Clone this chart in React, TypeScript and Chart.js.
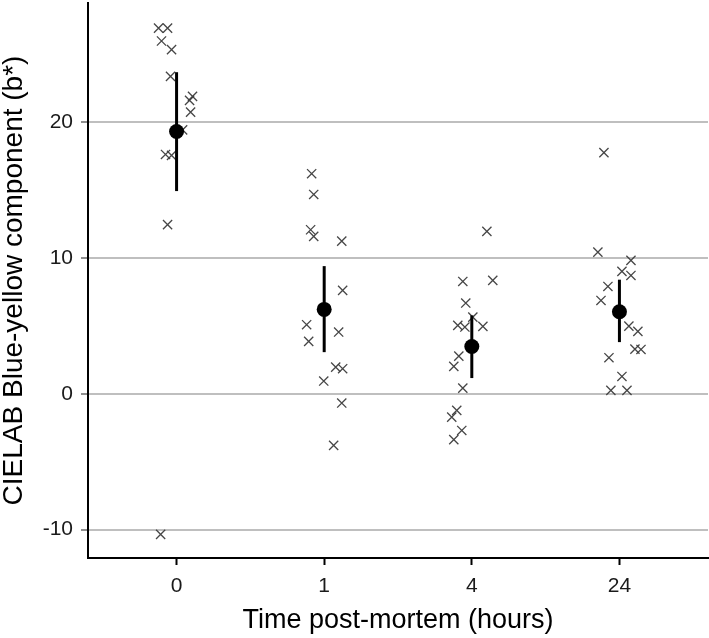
import React, { useEffect, useRef } from "react";
import { Chart, registerables } from "chart.js";

Chart.register(...registerables);

// Categories (time post-mortem, hours)
const categories = ["0", "1", "4", "24"];
const yTickValues = [-10, 0, 10, 20];

// Group means and error bar limits
const means = [19.33, 6.22, 3.49, 6.05];
const lower = [14.94, 3.07, 1.16, 3.81];
const upper = [23.7, 9.41, 5.78, 8.41];

// Individual observations (b*) and horizontal jitter (category units)
const values0 = [26.95, 26.95, 26.0, 25.36, 23.39, 21.92, 21.62, 20.76, 19.45, 17.64, 17.57, 12.47, -10.36];
const jitter0 = [-0.122, -0.061, -0.102, -0.034, -0.041, 0.108, 0.088, 0.095, 0.041, -0.075, -0.034, -0.061, -0.108];

const values1 = [16.22, 14.69, 12.09, 11.6, 11.25, 7.62, 5.09, 4.55, 3.86, 1.97, 1.85, 0.94, -0.68, -3.8];
const jitter1 = [-0.085, -0.071, -0.092, -0.071, 0.119, 0.125, -0.119, 0.098, -0.105, 0.078, 0.125, -0.003, 0.119, 0.064];

const values4 = [11.97, 8.28, 8.36, 6.69, 5.65, 5.04, 4.92, 4.97, 2.78, 2.02, 0.42, -1.22, -1.72, -2.7, -3.38];
const jitter4 = [0.102, -0.061, 0.142, -0.041, 0.007, -0.095, -0.047, 0.075, -0.088, -0.122, -0.061, -0.102, -0.136, -0.068, -0.122];

const values24 = [17.77, 10.44, 9.83, 9.02, 8.72, 7.91, 6.88, 4.99, 4.6, 3.29, 3.27, 2.66, 1.28, 0.25, 0.25];
const jitter24 = [-0.105, -0.146, 0.078, 0.017, 0.078, -0.078, -0.125, 0.064, 0.125, 0.105, 0.146, -0.071, 0.017, -0.058, 0.051];

const groupValues = [values0, values1, values4, values24];
const groupJitter = [jitter0, jitter1, jitter4, jitter24];

const FONT = "'Liberation Sans', Arial, Helvetica, sans-serif";

export default function App() {
  const ref = useRef<HTMLCanvasElement>(null);

  useEffect(() => {
    document.body.style.margin = "0";
    const canvas = ref.current;
    if (!canvas) return;

    const obs: { x: number; y: number }[] = [];
    groupValues.forEach((vals, i) => {
      vals.forEach((v, j) => obs.push({ x: i + groupJitter[i][j], y: v }));
    });

    const meanData = means.map((m, i) => ({ x: i, y: m }));

    const errorSets = categories.map((_, i) => ({
      type: "scatter" as const,
      data: [
        { x: i, y: lower[i] },
        { x: i, y: upper[i] },
      ],
      showLine: true,
      borderColor: "#000",
      borderWidth: 3,
      pointRadius: 0,
      order: 1,
    }));

    const chart = new Chart(canvas, {
      type: "scatter",
      data: {
        datasets: [
          {
            data: meanData,
            pointStyle: "circle",
            pointRadius: 7.5,
            backgroundColor: "#000",
            borderColor: "#000",
            borderWidth: 0,
            order: 0,
          },
          ...errorSets,
          {
            data: obs,
            pointStyle: "crossRot",
            pointRadius: 6.5,
            borderColor: "rgba(60,60,60,0.95)",
            backgroundColor: "rgba(60,60,60,0.95)",
            borderWidth: 1.3,
            order: 2,
          },
        ] as any,
      },
      options: {
        responsive: false,
        animation: false,
        events: [],
        layout: { autoPadding: false, padding: { top: 3, right: 1, left: 0, bottom: 0 } },
        plugins: {
          legend: { display: false },
          tooltip: { enabled: false },
        },
        scales: {
          x: {
            type: "linear",
            min: -0.6,
            max: 3.6,
            afterBuildTicks: (scale: any) => {
              scale.ticks = categories.map((_, i) => ({ value: i }));
            },
            afterFit: (scale: any) => {
              scale.height = 80;
              scale.paddingLeft = 0;
              scale.paddingRight = 0;
            },
            ticks: {
              autoSkip: false,
              padding: 9,
              color: "#1a1a1a",
              font: { family: FONT, size: 21 },
              callback: (v: any) => categories[Math.round(Number(v))] ?? "",
            },
            grid: {
              drawOnChartArea: false,
              drawTicks: true,
              tickLength: 7,
              tickColor: "#000",
              tickWidth: 2,
            },
            border: { display: true, color: "#000", width: 2 },
            title: {
              display: true,
              text: "Time post-mortem (hours)",
              color: "#000",
              font: { family: FONT, size: 27, lineHeight: 1.2 },
              padding: { top: 0, bottom: 1 },
            },
          },
          y: {
            type: "linear",
            min: -12.1,
            max: 28.8,
            afterBuildTicks: (scale: any) => {
              scale.ticks = yTickValues.map((v) => ({ value: v }));
            },
            afterFit: (scale: any) => {
              scale.width = 88;
              scale.paddingTop = 0;
              scale.paddingBottom = 0;
            },
            ticks: {
              padding: 8,
              color: "#1a1a1a",
              font: { family: FONT, size: 21 },
              callback: (v: any) => String(v),
            },
            grid: {
              color: "#bfbfbf",
              lineWidth: 2,
              drawTicks: true,
              tickLength: 7,
              tickColor: "#8f8f8f",
              tickWidth: 2,
            },
            border: { display: true, color: "#000", width: 2 },
            title: {
              display: true,
              text: "CIELAB Blue-yellow component (b*)",
              color: "#000",
              font: { family: FONT, size: 28, lineHeight: 1.0 },
              padding: { top: 0, bottom: 0 },
            },
          },
        },
      } as any,
    });

    return () => chart.destroy();
  }, []);

  return (
    <div style={{ width: 709, height: 638, position: "relative" }}>
      <canvas ref={ref} width={709} height={638} style={{ display: "block" }} />
    </div>
  );
}
